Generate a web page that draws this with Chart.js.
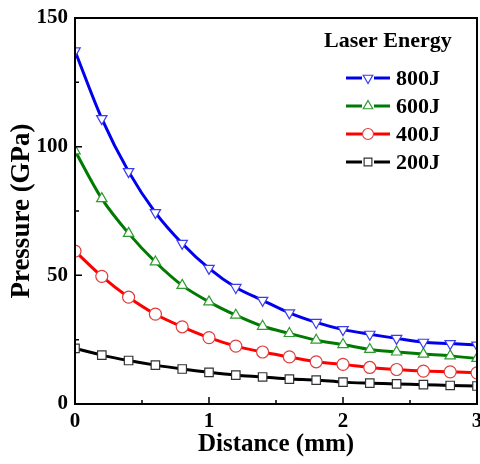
<!DOCTYPE html>
<html>
<head>
<meta charset="utf-8">
<script src="https://cdn.jsdelivr.net/npm/chart.js@4.4.0/dist/chart.umd.min.js"></script>
<style>
  html, body { margin: 0; padding: 0; background: #fff; }
  #wrap { width: 480px; height: 464px; }
</style>
</head>
<body>
<div id="wrap"><canvas id="grafica" width="480" height="464"></canvas></div>
<script>
const distance = [0, 0.2, 0.4, 0.6, 0.8, 1.0, 1.2, 1.4, 1.6, 1.8, 2.0, 2.2, 2.4, 2.6, 2.8, 3.0];

const p800 = [137.2, 110.9, 90.3, 74.4, 62.4, 52.7, 45.3, 40.3, 35.4, 31.7, 28.9, 27.1, 25.5, 24.0, 23.5, 22.9];
const p600 = [98.4, 79.8, 66.3, 55.2, 46.1, 39.7, 34.5, 30.2, 27.4, 24.8, 23.1, 21.2, 20.2, 19.4, 18.7, 17.7];
const p400 = [59.4, 49.6, 41.5, 34.9, 30.0, 25.8, 22.5, 20.2, 18.3, 16.4, 15.4, 14.2, 13.4, 12.8, 12.5, 12.1];
const p200 = [21.6, 19.0, 16.9, 15.1, 13.6, 12.3, 11.2, 10.5, 9.7, 9.3, 8.5, 8.1, 7.8, 7.5, 7.2, 7.0];

const yTicks = [0, 50, 100, 150];
const yMinor = [25, 75, 125];
const xTicks = [0, 1, 2, 3];
const xMinor = [0.5, 1.5, 2.5];

const serif = "'Liberation Serif', 'Times New Roman', serif";

function pts(vals) {
    return vals.map((v, i) => ({ x: distance[i], y: v }));
}

function series(label, vals, line, mark, style, rot) {
    return {
        label: label,
        data: pts(vals),
        borderColor: line,
        borderWidth: 3,
        pointStyle: style,
        pointRotation: rot,
        pointRadius: 6,
        pointBorderWidth: 1.2,
        pointBorderColor: mark,
        pointBackgroundColor: '#fff',
        fill: false,
        tension: 0.3
    };
}

const datasets = [
    series('800J', p800, '#0000ee', '#3b3bf0', 'triangle', 180),
    series('600J', p600, '#007a00', '#2f9a2f', 'triangle', 0),
    series('400J', p400, '#ff0000', '#e03c3c', 'circle', 0),
    series('200J', p200, '#000000', '#333333', 'rect', 0)
];

// frame, inward ticks and legend
const framePlugin = {
    id: 'frame',
    afterDatasetsDraw(chart) {
        const ctx = chart.ctx;
        const a = chart.chartArea;
        const xs = chart.scales.x, ys = chart.scales.y;
        ctx.save();
        ctx.strokeStyle = '#000';
        ctx.lineWidth = 2;
        ctx.strokeRect(a.left, a.top, a.right - a.left, a.bottom - a.top);
        ctx.lineWidth = 1.5;
        ctx.beginPath();
        yTicks.forEach(v => { const y = ys.getPixelForValue(v); ctx.moveTo(a.left, y); ctx.lineTo(a.left + 7, y); });
        yMinor.forEach(v => { const y = ys.getPixelForValue(v); ctx.moveTo(a.left, y); ctx.lineTo(a.left + 4, y); });
        xTicks.forEach(v => { const x = xs.getPixelForValue(v); ctx.moveTo(x, a.bottom); ctx.lineTo(x, a.bottom - 7); });
        xMinor.forEach(v => { const x = xs.getPixelForValue(v); ctx.moveTo(x, a.bottom); ctx.lineTo(x, a.bottom - 4); });
        ctx.stroke();

        // legend
        ctx.fillStyle = '#000';
        ctx.font = 'bold 22px ' + serif;
        ctx.textAlign = 'left';
        ctx.textBaseline = 'middle';
        ctx.fillText('Laser Energy', 324, 41);
        const rows = [78, 106, 134, 162];
        chart.data.datasets.forEach((ds, i) => {
            const y = rows[i];
            ctx.strokeStyle = ds.borderColor;
            ctx.lineWidth = 3;
            ctx.beginPath();
            ctx.moveTo(346, y); ctx.lineTo(362, y);
            ctx.moveTo(374, y); ctx.lineTo(390, y);
            ctx.stroke();
            ctx.fillStyle = '#fff';
            ctx.strokeStyle = ds.pointBorderColor;
            ctx.lineWidth = 1.2;
            Chart.helpers.drawPoint(ctx, {
                pointStyle: ds.pointStyle, rotation: ds.pointRotation,
                radius: 5.5, borderWidth: 1.2
            }, 368, y);
            ctx.fillStyle = '#000';
            ctx.font = 'bold 22px ' + serif;
            ctx.fillText(ds.label, 396, y + 1);
        });
        ctx.restore();
    }
};

const graph = document.querySelector('#grafica');

new Chart(graph, {
    type: 'line',
    data: { datasets: datasets },
    options: {
        responsive: false,
        animation: false,
        devicePixelRatio: 1,
        layout: { autoPadding: false, padding: { top: 18, right: 3, left: 0, bottom: 0 } },
        plugins: {
            legend: { display: false },
            tooltip: { enabled: false }
        },
        scales: {
            x: {
                type: 'linear',
                min: 0, max: 3,
                afterFit(s) { s.height = 60; s.paddingLeft = 0; s.paddingRight = 0; },
                afterBuildTicks(s) { s.ticks = xTicks.map(v => ({ value: v })); },
                grid: { display: false, tickLength: 0 },
                border: { display: false },
                ticks: {
                    color: '#000', padding: 5,
                    font: { family: serif, size: 21, weight: 'bold' }
                },
                title: {
                    display: true, text: 'Distance (mm)', color: '#000',
                    padding: { top: 0, bottom: 4 },
                    font: { family: serif, size: 25, weight: 'bold' }
                }
            },
            y: {
                min: 0, max: 150,
                afterFit(s) { s.width = 75; s.paddingTop = 0; s.paddingBottom = 0; },
                afterBuildTicks(s) { s.ticks = yTicks.map(v => ({ value: v })); },
                grid: { display: false, tickLength: 0 },
                border: { display: false },
                ticks: {
                    color: '#000', padding: 7,
                    font: { family: serif, size: 21, weight: 'bold' }
                },
                title: {
                    display: true, text: 'Pressure (GPa)', color: '#000',
                    padding: { top: 6, bottom: 0 },
                    font: { family: serif, size: 27, weight: 'bold' }
                }
            }
        }
    },
    plugins: [framePlugin]
});
</script>
</body>
</html>
